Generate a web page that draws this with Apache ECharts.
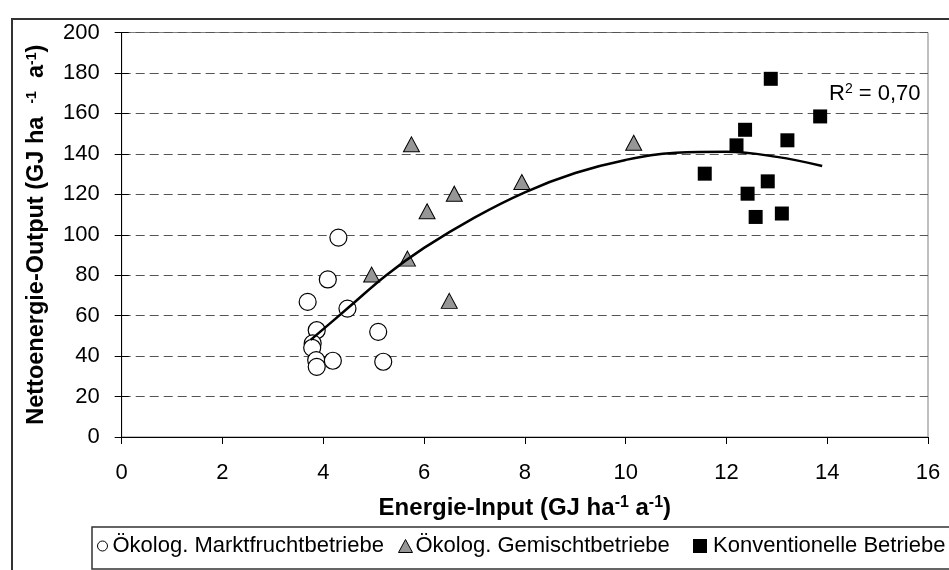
<!DOCTYPE html>
<html>
<head>
<meta charset="utf-8">
<script src="https://cdn.jsdelivr.net/npm/echarts@6/dist/echarts.min.js"></script>
<style>
  html, body { margin: 0; padding: 0; background: #fff; }
  #chart { width: 949px; height: 570px; }
</style>
</head>
<body>
<div id="chart"></div>
<script>
// Energie-Input (x) vs. Nettoenergie-Output (y), GJ ha-1 a-1
const marktfrucht = [
  [4.30, 98.6], [4.09, 77.9], [3.69, 66.8], [4.48, 63.5], [3.87, 52.8], [5.09, 52.0],
  [3.79, 46.3], [3.78, 44.1], [3.86, 38.0], [3.87, 34.7], [4.19, 37.7], [5.19, 37.2]
];
const gemischt = [
  [5.75, 144.7], [6.60, 120.3], [6.06, 111.6], [5.67, 88.2],
  [4.96, 80.3], [6.50, 67.3], [7.94, 126.1], [10.16, 145.5]
];
const konventionell = [
  [12.88, 177.1], [13.86, 158.5], [12.37, 151.9], [12.20, 144.2], [13.21, 146.7],
  [11.57, 130.2], [12.82, 126.4], [12.42, 120.3], [12.58, 108.8], [13.10, 110.5]
];
// polynomial trend line (2nd order), points along the curve
const trendX = [3.75, 4.5, 5.25, 6, 7, 8, 9, 10, 11, 12, 13, 13.9];
const trendY = [48, 64, 80, 93.5, 108.5, 121, 130.5, 137, 140.5, 141, 138.5, 134];
const seriesNames = ['Ökolog. Marktfruchtbetriebe', 'Ökolog. Gemischtbetriebe', 'Konventionelle Betriebe'];
const rSquared = '0,70';

const FONT = "'Liberation Sans', Arial, sans-serif";
const trend = trendX.map((x, i) => [x, trendY[i]]);

const chart = echarts.init(document.getElementById('chart'), null, { renderer: 'canvas' });

function titleRich(main, sup, lift) {
  return {
    b: { fontFamily: FONT, fontSize: main, fontWeight: 'bold', color: '#000' },
    sup: { fontFamily: FONT, fontSize: sup, fontWeight: 'bold', color: '#000', verticalAlign: 'top', padding: [0, 0, lift, 0] }
  };
}

// one legend block per series, laid out in a single row
const legendSpecs = [
  { name: seriesNames[0], left: 97, w: 10, h: 10, icon: 'circle', style: { color: '#fff', borderColor: '#000', borderWidth: 1 }, pad: 0 },
  { name: seriesNames[1], left: 398, w: 14, h: 13, icon: 'triangle', style: { color: '#969696', borderColor: '#000', borderWidth: 1 }, pad: -2 },
  { name: seriesNames[2], left: 693, w: 14, h: 14, icon: 'rect', style: { color: '#000', borderColor: '#000', borderWidth: 0 }, pad: 1 }
];

chart.setOption({
  animation: false,
  textStyle: { fontFamily: FONT },
  grid: { left: 121.7, right: 21, top: 32.5, bottom: 133, show: true, borderColor: '#808080', borderWidth: 1, backgroundColor: 'transparent' },
  xAxis: [{
    type: 'value', min: 0, max: 16, interval: 2,
    axisLine: { show: true, onZero: false, lineStyle: { color: '#000', width: 1 } },
    axisTick: { show: true, length: 7, lineStyle: { color: '#000' } },
    axisLabel: { margin: 25, fontSize: 22, color: '#000', fontFamily: FONT },
    splitLine: { show: false },
    name: '{b|Energie-Input (GJ ha}{sup|-1}{b| a}{sup|-1}{b|)}',
    nameLocation: 'middle', nameGap: 58,
    nameTextStyle: { rich: titleRich(24, 16, 10) }
  }],
  yAxis: [{
    type: 'value', min: 0, max: 200, interval: 20,
    axisLine: { show: true, onZero: false, lineStyle: { color: '#000', width: 1 } },
    axisTick: { show: true, length: 7, lineStyle: { color: '#000' } },
    axisLabel: { margin: 22, fontSize: 22, color: '#000', fontFamily: FONT },
    splitLine: { show: true, lineStyle: { color: '#555', width: 1, type: [9, 5] } },
    name: '{b|Nettoenergie-Output (GJ ha  }{sup|-1}{b|  a}{sup|-1}{b|)}',
    nameLocation: 'middle', nameGap: 73, nameRotate: 90,
    nameTextStyle: { rich: titleRich(23.5, 14, 10) }
  }, {
    // inner half of the crossing tick marks
    type: 'value', min: 0, max: 200, interval: 20, position: 'left',
    axisLine: { show: false }, axisLabel: { show: false }, splitLine: { show: false },
    axisTick: { show: true, inside: true, length: 7, lineStyle: { color: '#000' } }
  }],
  legend: legendSpecs.map(s => ({
    left: s.left, top: 535, padding: 0, itemWidth: s.w, itemHeight: s.h, selectedMode: false,
    textStyle: { fontFamily: FONT, fontSize: 22, color: '#000', padding: [0, 0, 0, s.pad] },
    data: [{ name: s.name, icon: s.icon, itemStyle: s.style }]
  })),
  series: [
    {
      name: seriesNames[0], type: 'scatter', data: marktfrucht, symbol: 'circle', symbolSize: 17, z: 2,
      itemStyle: { color: '#fff', borderColor: '#000', borderWidth: 1.2, opacity: 1 }
    },
    {
      name: seriesNames[1], type: 'scatter', data: gemischt, symbol: 'triangle', symbolSize: [16, 15], z: 3,
      itemStyle: { color: '#969696', borderColor: '#000', borderWidth: 1, opacity: 1 }
    },
    {
      name: seriesNames[2], type: 'scatter', data: konventionell, symbol: 'rect', symbolSize: 14, z: 4,
      itemStyle: { color: '#000', borderColor: '#000', borderWidth: 0, opacity: 1 }
    },
    {
      name: 'Trend', type: 'line', data: trend, smooth: 0.4, showSymbol: false, z: 5,
      lineStyle: { color: '#000', width: 2.5 }, silent: true
    }
  ],
  graphic: [
    { type: 'rect', shape: { x: 12, y: 19, width: 960, height: 600 }, style: { fill: 'none', stroke: '#333', lineWidth: 2 }, silent: true },
    { type: 'rect', shape: { x: 92, y: 527, width: 900, height: 42 }, style: { fill: 'none', stroke: '#333', lineWidth: 1.5 }, silent: true },
    {
      type: 'text', left: 829, top: 82, silent: true,
      style: {
        text: '{n|R}{s|2}{n| = ' + rSquared + '}',
        rich: {
          n: { fontFamily: FONT, fontSize: 22, fill: '#000' },
          s: { fontFamily: FONT, fontSize: 14, fill: '#000', verticalAlign: 'top', padding: [0, 0, 9, 0] }
        }
      }
    }
  ]
});
</script>
</body>
</html>
